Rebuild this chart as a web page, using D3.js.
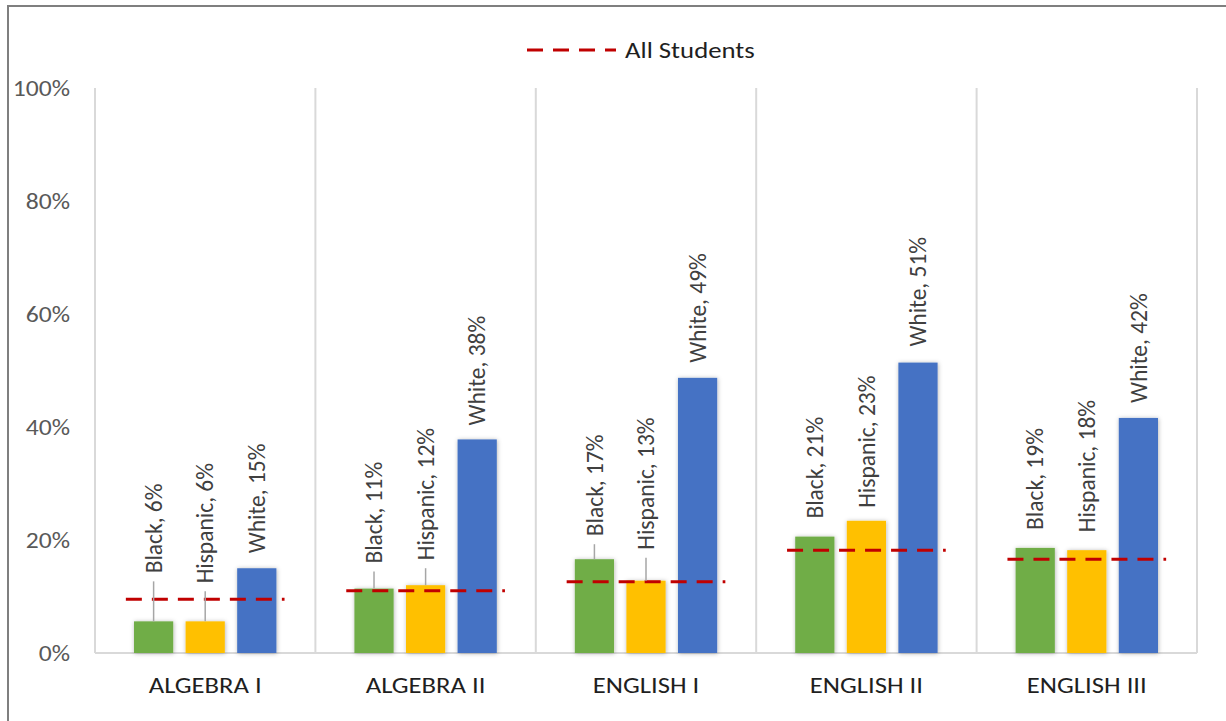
<!DOCTYPE html>
<html>
<head>
<meta charset="utf-8">
<script src="https://cdn.jsdelivr.net/npm/d3@7"></script>
<style>
  html, body { margin: 0; padding: 0; background: #fff; }
  svg { display: block; }
  text { font-family: Carlito, Calibri, Lato, sans-serif; }
</style>
</head>
<body>
<svg id="chart" width="1226" height="721"></svg>
<script>
// Course pass rates by student group
const categories = ["ALGEBRA I", "ALGEBRA II", "ENGLISH I", "ENGLISH II", "ENGLISH III"];
const groups = ["Black", "Hispanic", "White"];
const black = [5.6, 11.4, 16.6, 20.6, 18.6];
const hispanic = [5.6, 12.0, 12.8, 23.4, 18.2];
const white = [15.0, 37.8, 48.7, 51.4, 41.6];
const allStudents = [9.5, 11.0, 12.6, 18.2, 16.6];
const yTicks = [0, 20, 40, 60, 80, 100];
const legendLabel = "All Students";

const groupColors = ["#70AD47", "#FFC000", "#4472C4"];

// Hand-placed label offsets (px above the bar top)
const labelLift = [
  [48, 25, 23, 18, 18],
  [38, 25, 31, 13, 18],
  [15, 14, 15, 16, 15]
];

const seriesValues = [black, hispanic, white];
const W = 1226, H = 721;
const plot = { left: 95, right: 1197, top: 88, bottom: 653 };
const textStretch = 1.19;

const svg = d3.select("#chart");

const defs = svg.append("defs");
const f = defs.append("filter").attr("id", "barShadow")
  .attr("x", "-30%").attr("y", "-10%").attr("width", "160%").attr("height", "120%");
f.append("feDropShadow").attr("dx", 0.5).attr("dy", 0.5).attr("stdDeviation", 2)
  .attr("flood-color", "#000").attr("flood-opacity", 0.3);

// Outer frame (top and left edges visible)
svg.append("path")
  .attr("d", `M8,${H} V6 H${W}`)
  .attr("fill", "none").attr("stroke", "#7F7F7F").attr("stroke-width", 2);

const x = d3.scaleBand().domain(categories).range([plot.left, plot.right]).padding(0);
const bw = x.bandwidth();
const inset = 0.177 * bw;
const xInner = d3.scaleBand().domain(groups).range([inset, bw - inset]).paddingInner(0.24).paddingOuter(0);
const y = d3.scaleLinear().domain([0, 100]).range([plot.bottom, plot.top]);

// Vertical separators between categories
const sepX = categories.map(c => x(c)).concat([plot.right]);
svg.append("g").selectAll("line").data(sepX).join("line")
  .attr("x1", d => d).attr("x2", d => d)
  .attr("y1", y(100)).attr("y2", y(0))
  .attr("stroke", "#D9D9D9").attr("stroke-width", 2);

// Baseline
svg.append("line")
  .attr("x1", plot.left).attr("x2", plot.right)
  .attr("y1", y(0)).attr("y2", y(0))
  .attr("stroke", "#D9D9D9").attr("stroke-width", 2);

// Y axis labels
const yAxis = svg.append("g").attr("transform", `translate(${plot.left},0)`)
  .call(d3.axisLeft(y).tickValues(yTicks).tickSize(0).tickFormat(d => d + "%"));
yAxis.select(".domain").remove();
yAxis.selectAll("text")
  .attr("x", 0).attr("dy", "0.34em")
  .attr("transform", `translate(-25,0) scale(${textStretch},1)`)
  .attr("font-size", 21.5).attr("fill", "#595959")
  .attr("font-family", "Carlito, Calibri, Lato, sans-serif");

// Category labels
const xAxis = svg.append("g").attr("transform", `translate(0,${plot.bottom})`)
  .call(d3.axisBottom(x).tickSize(0));
xAxis.select(".domain").remove();
xAxis.selectAll("text")
  .attr("y", 40).attr("dy", 0)
  .attr("transform", `scale(${textStretch},1)`)
  .attr("font-size", 22.4).attr("fill", "#1F1F1F")
  .attr("font-family", "Carlito, Calibri, Lato, sans-serif");

// Bars
const barData = [];
categories.forEach((c, ci) => {
  groups.forEach((g, gi) => {
    barData.push({ c, ci, g, gi, v: seriesValues[gi][ci] });
  });
});

svg.append("g").attr("filter", "url(#barShadow)")
  .selectAll("rect").data(barData).join("rect")
  .attr("x", d => x(d.c) + xInner(d.g))
  .attr("y", d => y(d.v))
  .attr("width", xInner.bandwidth())
  .attr("height", d => y(0) - y(d.v))
  .attr("fill", d => groupColors[d.gi]);

// All Students reference segments
const line = d3.line().x(d => d[0]).y(d => y(d[1]));
svg.append("g").selectAll("path").data(categories).join("path")
  .attr("d", (c, i) => line([[x(c) + 0.14 * bw, allStudents[i]], [x(c) + 0.86 * bw, allStudents[i]]]))
  .attr("fill", "none").attr("stroke", "#C00000")
  .attr("stroke-width", 3).attr("stroke-dasharray", "16 10");

// Leader lines for lifted labels
const cx = d => x(d.c) + xInner(d.g) + xInner.bandwidth() / 2;
const lift = d => labelLift[d.gi][d.ci];
svg.append("g").selectAll("line").data(barData.filter(d => lift(d) > 20)).join("line")
  .attr("x1", cx).attr("x2", cx)
  .attr("y1", d => y(d.v))
  .attr("y2", d => y(d.v) - lift(d) + 8)
  .attr("stroke", "#A6A6A6").attr("stroke-width", 1.5);

// Data labels
svg.append("g").selectAll("text").data(barData).join("text")
  .attr("transform", d => `translate(${cx(d)},${y(d.v) - lift(d)}) rotate(-90)`)
  .attr("dy", "0.35em")
  .attr("text-anchor", "start")
  .attr("font-size", 23.5).attr("fill", "#404040")
  .text(d => `${d.g}, ${Math.round(d.v)}%`);

// Legend
const legend = svg.append("g").attr("transform", "translate(527,50)");
legend.append("line")
  .attr("x1", 0).attr("x2", 89).attr("y1", 0).attr("y2", 0)
  .attr("stroke", "#C00000").attr("stroke-width", 3).attr("stroke-dasharray", "16 10");
legend.append("text")
  .attr("transform", `translate(98,7.5) scale(${textStretch},1)`)
  .attr("font-size", 22.5).attr("fill", "#1F1F1F")
  .text(legendLabel);
</script>
</body>
</html>
